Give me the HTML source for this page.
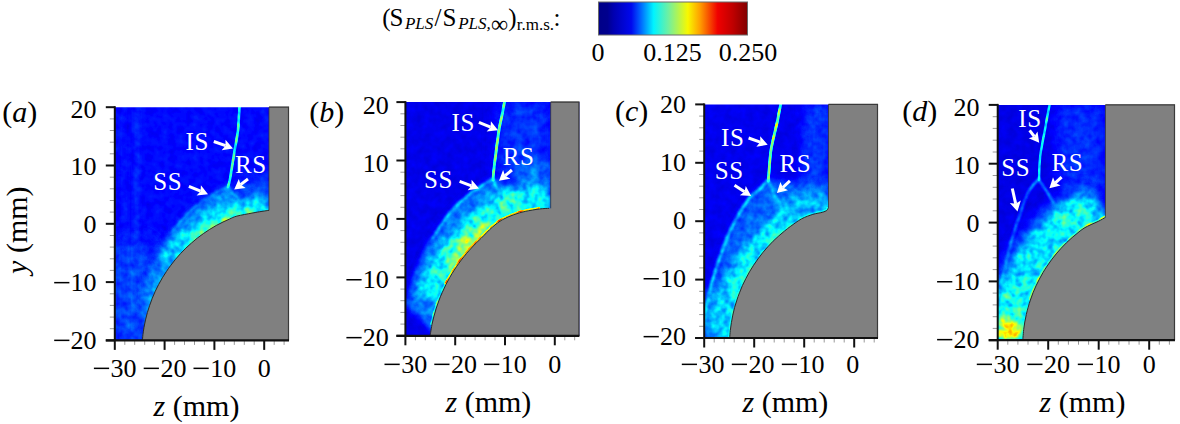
<!DOCTYPE html>
<html><head><meta charset="utf-8"><title>Figure</title>
<style>
html,body{margin:0;padding:0;background:#fff;overflow:hidden;}
svg{display:block;}
text{font-family:"Liberation Serif", serif;fill:#000;}
.w{fill:#fff;font-size:25px;}
</style></head><body>
<svg width="1180" height="424" viewBox="0 0 1180 424">
<defs>
<linearGradient id="jet" x1="0" x2="1" y1="0" y2="0">
<stop offset="0" stop-color="#000088"/>
<stop offset="0.06" stop-color="#00008e"/>
<stop offset="0.10" stop-color="#0000b0"/>
<stop offset="0.22" stop-color="#0008ee"/>
<stop offset="0.28" stop-color="#0060ff"/>
<stop offset="0.37" stop-color="#00f4ff"/>
<stop offset="0.47" stop-color="#70f0a0"/>
<stop offset="0.60" stop-color="#f8f800"/>
<stop offset="0.68" stop-color="#ffa000"/>
<stop offset="0.80" stop-color="#f00000"/>
<stop offset="0.90" stop-color="#c00000"/>
<stop offset="1" stop-color="#800000"/>
</linearGradient>
<filter id="b1" filterUnits="userSpaceOnUse" x="0" y="0" width="1180" height="424" color-interpolation-filters="sRGB"><feGaussianBlur stdDeviation="1"/></filter>
<filter id="b2" filterUnits="userSpaceOnUse" x="0" y="0" width="1180" height="424" color-interpolation-filters="sRGB"><feGaussianBlur stdDeviation="2"/></filter>
<filter id="b3" filterUnits="userSpaceOnUse" x="0" y="0" width="1180" height="424" color-interpolation-filters="sRGB"><feGaussianBlur stdDeviation="3"/></filter>
<filter id="b5" filterUnits="userSpaceOnUse" x="0" y="0" width="1180" height="424" color-interpolation-filters="sRGB"><feGaussianBlur stdDeviation="5"/></filter>
<filter id="b8" filterUnits="userSpaceOnUse" x="0" y="0" width="1180" height="424" color-interpolation-filters="sRGB"><feGaussianBlur stdDeviation="8"/></filter>
<filter id="b12" filterUnits="userSpaceOnUse" x="0" y="0" width="1180" height="424" color-interpolation-filters="sRGB"><feGaussianBlur stdDeviation="12"/></filter>

<clipPath id="clipa"><rect x="114.8" y="107.2" width="174.2" height="233.2"/></clipPath>
<filter id="jma" x="0" y="0" width="100%" height="100%" color-interpolation-filters="sRGB">
<feTurbulence type="fractalNoise" baseFrequency="0.13" numOctaves="2" seed="3" result="t"/>
<feColorMatrix in="t" type="matrix" values="1 0 0 0 0  1 0 0 0 0  1 0 0 0 0  0 0 0 0 1" result="n"/>
<feComponentTransfer in="SourceGraphic" result="wt"><feFuncR type="linear" slope="2.5" intercept="-0.3"/><feFuncG type="linear" slope="2.5" intercept="-0.3"/><feFuncB type="linear" slope="2.5" intercept="-0.3"/><feFuncA type="linear" slope="0" intercept="1"/></feComponentTransfer>
<feComposite in="wt" in2="n" operator="arithmetic" k1="0.42" k2="0" k3="0" k4="0" result="wn"/>
<feComposite in="wt" in2="SourceGraphic" operator="arithmetic" k1="0" k2="-0.21" k3="1" k4="0" result="s1"/>
<feComposite in="s1" in2="wn" operator="arithmetic" k1="0" k2="1" k3="1" k4="0" result="s2"/>
<feComposite in="s2" in2="n" operator="arithmetic" k1="0" k2="1" k3="0.05" k4="-0.025" result="s"/>
<feComponentTransfer in="s">
<feFuncR type="table" tableValues="0.000 0.000 0.000 0.000 0.000 0.000 0.000 0.000 0.000 0.000 0.000 0.000 0.000 0.125 0.250 0.375 0.500 0.625 0.750 0.875 1.000 1.000 1.000 1.000 1.000 1.000 1.000 1.000 1.000 0.875 0.750 0.625 0.500"/>
<feFuncG type="table" tableValues="0.000 0.000 0.000 0.000 0.000 0.125 0.250 0.375 0.500 0.625 0.750 0.875 1.000 1.000 1.000 1.000 1.000 1.000 1.000 1.000 1.000 0.875 0.750 0.625 0.500 0.375 0.250 0.125 0.000 0.000 0.000 0.000 0.000"/>
<feFuncB type="table" tableValues="0.500 0.625 0.750 0.875 1.000 1.000 1.000 1.000 1.000 1.000 1.000 1.000 1.000 0.875 0.750 0.625 0.500 0.375 0.250 0.125 0.000 0.000 0.000 0.000 0.000 0.000 0.000 0.000 0.000 0.000 0.000 0.000 0.000"/>
<feFuncA type="linear" slope="0" intercept="1"/>
</feComponentTransfer>
</filter>
<clipPath id="clipb"><rect x="405.4" y="102.1" width="174.0" height="233.7"/></clipPath>
<filter id="jmb" x="0" y="0" width="100%" height="100%" color-interpolation-filters="sRGB">
<feTurbulence type="fractalNoise" baseFrequency="0.13" numOctaves="2" seed="10" result="t"/>
<feColorMatrix in="t" type="matrix" values="1 0 0 0 0  1 0 0 0 0  1 0 0 0 0  0 0 0 0 1" result="n"/>
<feComponentTransfer in="SourceGraphic" result="wt"><feFuncR type="linear" slope="2.5" intercept="-0.3"/><feFuncG type="linear" slope="2.5" intercept="-0.3"/><feFuncB type="linear" slope="2.5" intercept="-0.3"/><feFuncA type="linear" slope="0" intercept="1"/></feComponentTransfer>
<feComposite in="wt" in2="n" operator="arithmetic" k1="0.42" k2="0" k3="0" k4="0" result="wn"/>
<feComposite in="wt" in2="SourceGraphic" operator="arithmetic" k1="0" k2="-0.21" k3="1" k4="0" result="s1"/>
<feComposite in="s1" in2="wn" operator="arithmetic" k1="0" k2="1" k3="1" k4="0" result="s2"/>
<feComposite in="s2" in2="n" operator="arithmetic" k1="0" k2="1" k3="0.05" k4="-0.025" result="s"/>
<feComponentTransfer in="s">
<feFuncR type="table" tableValues="0.000 0.000 0.000 0.000 0.000 0.000 0.000 0.000 0.000 0.000 0.000 0.000 0.000 0.125 0.250 0.375 0.500 0.625 0.750 0.875 1.000 1.000 1.000 1.000 1.000 1.000 1.000 1.000 1.000 0.875 0.750 0.625 0.500"/>
<feFuncG type="table" tableValues="0.000 0.000 0.000 0.000 0.000 0.125 0.250 0.375 0.500 0.625 0.750 0.875 1.000 1.000 1.000 1.000 1.000 1.000 1.000 1.000 1.000 0.875 0.750 0.625 0.500 0.375 0.250 0.125 0.000 0.000 0.000 0.000 0.000"/>
<feFuncB type="table" tableValues="0.500 0.625 0.750 0.875 1.000 1.000 1.000 1.000 1.000 1.000 1.000 1.000 1.000 0.875 0.750 0.625 0.500 0.375 0.250 0.125 0.000 0.000 0.000 0.000 0.000 0.000 0.000 0.000 0.000 0.000 0.000 0.000 0.000"/>
<feFuncA type="linear" slope="0" intercept="1"/>
</feComponentTransfer>
</filter>
<clipPath id="clipc"><rect x="704.2" y="104.4" width="173.8" height="233.6"/></clipPath>
<filter id="jmc" x="0" y="0" width="100%" height="100%" color-interpolation-filters="sRGB">
<feTurbulence type="fractalNoise" baseFrequency="0.13" numOctaves="2" seed="17" result="t"/>
<feColorMatrix in="t" type="matrix" values="1 0 0 0 0  1 0 0 0 0  1 0 0 0 0  0 0 0 0 1" result="n"/>
<feComponentTransfer in="SourceGraphic" result="wt"><feFuncR type="linear" slope="2.5" intercept="-0.3"/><feFuncG type="linear" slope="2.5" intercept="-0.3"/><feFuncB type="linear" slope="2.5" intercept="-0.3"/><feFuncA type="linear" slope="0" intercept="1"/></feComponentTransfer>
<feComposite in="wt" in2="n" operator="arithmetic" k1="0.42" k2="0" k3="0" k4="0" result="wn"/>
<feComposite in="wt" in2="SourceGraphic" operator="arithmetic" k1="0" k2="-0.21" k3="1" k4="0" result="s1"/>
<feComposite in="s1" in2="wn" operator="arithmetic" k1="0" k2="1" k3="1" k4="0" result="s2"/>
<feComposite in="s2" in2="n" operator="arithmetic" k1="0" k2="1" k3="0.05" k4="-0.025" result="s"/>
<feComponentTransfer in="s">
<feFuncR type="table" tableValues="0.000 0.000 0.000 0.000 0.000 0.000 0.000 0.000 0.000 0.000 0.000 0.000 0.000 0.125 0.250 0.375 0.500 0.625 0.750 0.875 1.000 1.000 1.000 1.000 1.000 1.000 1.000 1.000 1.000 0.875 0.750 0.625 0.500"/>
<feFuncG type="table" tableValues="0.000 0.000 0.000 0.000 0.000 0.125 0.250 0.375 0.500 0.625 0.750 0.875 1.000 1.000 1.000 1.000 1.000 1.000 1.000 1.000 1.000 0.875 0.750 0.625 0.500 0.375 0.250 0.125 0.000 0.000 0.000 0.000 0.000"/>
<feFuncB type="table" tableValues="0.500 0.625 0.750 0.875 1.000 1.000 1.000 1.000 1.000 1.000 1.000 1.000 1.000 0.875 0.750 0.625 0.500 0.375 0.250 0.125 0.000 0.000 0.000 0.000 0.000 0.000 0.000 0.000 0.000 0.000 0.000 0.000 0.000"/>
<feFuncA type="linear" slope="0" intercept="1"/>
</feComponentTransfer>
</filter>
<clipPath id="clipd"><rect x="997.7" y="104.9" width="177.3" height="235.3"/></clipPath>
<filter id="jmd" x="0" y="0" width="100%" height="100%" color-interpolation-filters="sRGB">
<feTurbulence type="fractalNoise" baseFrequency="0.13" numOctaves="2" seed="24" result="t"/>
<feColorMatrix in="t" type="matrix" values="1 0 0 0 0  1 0 0 0 0  1 0 0 0 0  0 0 0 0 1" result="n"/>
<feComponentTransfer in="SourceGraphic" result="wt"><feFuncR type="linear" slope="2.5" intercept="-0.3"/><feFuncG type="linear" slope="2.5" intercept="-0.3"/><feFuncB type="linear" slope="2.5" intercept="-0.3"/><feFuncA type="linear" slope="0" intercept="1"/></feComponentTransfer>
<feComposite in="wt" in2="n" operator="arithmetic" k1="0.42" k2="0" k3="0" k4="0" result="wn"/>
<feComposite in="wt" in2="SourceGraphic" operator="arithmetic" k1="0" k2="-0.21" k3="1" k4="0" result="s1"/>
<feComposite in="s1" in2="wn" operator="arithmetic" k1="0" k2="1" k3="1" k4="0" result="s2"/>
<feComposite in="s2" in2="n" operator="arithmetic" k1="0" k2="1" k3="0.05" k4="-0.025" result="s"/>
<feComponentTransfer in="s">
<feFuncR type="table" tableValues="0.000 0.000 0.000 0.000 0.000 0.000 0.000 0.000 0.000 0.000 0.000 0.000 0.000 0.125 0.250 0.375 0.500 0.625 0.750 0.875 1.000 1.000 1.000 1.000 1.000 1.000 1.000 1.000 1.000 0.875 0.750 0.625 0.500"/>
<feFuncG type="table" tableValues="0.000 0.000 0.000 0.000 0.000 0.125 0.250 0.375 0.500 0.625 0.750 0.875 1.000 1.000 1.000 1.000 1.000 1.000 1.000 1.000 1.000 0.875 0.750 0.625 0.500 0.375 0.250 0.125 0.000 0.000 0.000 0.000 0.000"/>
<feFuncB type="table" tableValues="0.500 0.625 0.750 0.875 1.000 1.000 1.000 1.000 1.000 1.000 1.000 1.000 1.000 0.875 0.750 0.625 0.500 0.375 0.250 0.125 0.000 0.000 0.000 0.000 0.000 0.000 0.000 0.000 0.000 0.000 0.000 0.000 0.000"/>
<feFuncA type="linear" slope="0" intercept="1"/>
</feComponentTransfer>
</filter>
</defs>
<rect width="1180" height="424" fill="#fff"/>
<g font-size="25">
<text x="382.2" y="25.5">(</text>
<text x="389.4" y="25.5">S</text>
<text x="404.9" y="29" font-size="17" font-style="italic">PLS</text>
<text x="434.4" y="25.5">/</text>
<text x="442.6" y="25.5">S</text>
<text x="458.2" y="29" font-size="17" font-style="italic">PLS,</text>
<text x="490.9" y="31.5" font-size="24">∞</text>
<text x="508.2" y="25.5">)</text>
<text x="516.8" y="29.5" font-size="17">r.m.s.</text>
<text x="553.4" y="25.5">:</text>
</g>
<rect x="598.5" y="2" width="149" height="33" fill="url(#jet)" stroke="#6a6a6a" stroke-width="1"/>
<text x="591.5" y="61" font-size="26">0</text>
<text x="643.2" y="61" font-size="26">0.125</text>
<text x="718.7" y="61" font-size="26">0.250</text>
<g clip-path="url(#clipa)"><g filter="url(#jma)">
<rect x="112.8" y="105.2" width="178.2" height="237.2" fill="#222222"/>
<path d="M115.0,245.0 L148.0,245.0 L148.0,345.0 L115.0,345.0 Z" fill="#3b3b3b" filter="url(#b12)" opacity="0.9"/>
<path d="M137.0,107.0 C137.1,145.8 137.4,301.2 137.5,340.0" fill="none" stroke="#2f2f2f" stroke-width="4" stroke-linecap="round" filter="url(#b2)" opacity="0.8"/>
<path d="M124.0,107.0 C124.0,145.8 124.0,301.2 124.0,340.0" fill="none" stroke="#292929" stroke-width="3" stroke-linecap="round" filter="url(#b2)" opacity="0.6"/>
<path d="M232.0,185.0 L269.0,175.0 L269.0,212.0 L236.0,216.0 Z" fill="#333333" filter="url(#b5)" opacity="0.9"/>
<path d="M228.1,187.0 L218.0,191.5 L209.3,196.9 L195.2,206.8 L183.8,218.2 L172.5,232.3 L161.2,249.3 L152.0,268.0 L146.0,290.0 L142.0,310.0 L150.3,341.2 L150.9,335.8 L151.9,328.7 L153.3,321.6 L155.1,314.7 L157.2,307.8 L159.7,301.1 L162.6,294.5 L165.8,288.1 L169.3,281.9 L173.1,275.8 L177.3,270.0 L181.7,264.4 L186.4,259.0 L191.5,253.9 L196.7,249.0 L202.3,244.4 L208.0,240.2 L214.0,236.2 L220.1,232.5 L226.5,229.2 L233.0,226.2 L238.9,223.8 L254.4,220.8 L270.3,218.2 L269.0,205.0 L240.0,200.0 Z" fill="#404040" filter="url(#b3)" opacity="1"/>
<path d="M266.6,195.5 L250.3,198.1 L233.2,201.5 L224.0,205.1 L216.4,208.6 L208.9,212.4 L201.7,216.7 L194.8,221.3 L188.0,226.3 L181.6,231.7 L175.4,237.4 L169.6,243.3 L164.1,249.6 L159.1,255.9 L177.1,270.1 L181.7,264.4 L186.4,259.0 L191.5,253.9 L196.7,249.0 L202.3,244.4 L208.0,240.2 L214.0,236.2 L220.1,232.5 L226.5,229.2 L233.0,226.2 L238.9,223.8 L254.4,220.8 L270.3,218.2 Z" fill="#5e5e5e" filter="url(#b5)" opacity="0.95"/>
<path d="M168.5,253.6 L163.7,259.8 L159.0,266.4 L154.7,273.2 L150.7,280.2 L147.2,287.4 L144.0,294.8 L141.2,302.1 L157.2,308.0 L159.7,301.1 L162.6,294.5 L165.8,288.1 L169.3,281.9 L173.1,275.8 L177.3,270.0 L181.8,264.2 Z" fill="#474747" filter="url(#b5)" opacity="0.9"/>
<path d="M251.8,207.0 L235.4,210.3 L227.5,213.3 L220.3,216.6 L213.3,220.3 L206.5,224.3 L199.9,228.7 L193.6,233.4 L187.6,238.4 L196.6,249.1 L202.3,244.4 L208.0,240.2 L214.0,236.2 L220.1,232.5 L226.5,229.2 L233.0,226.2 L238.9,223.8 L254.5,220.8 Z" fill="#737373" filter="url(#b2)" opacity="0.9"/>
<ellipse cx="226.0" cy="219.5" rx="6" ry="2.5" fill="#9e9e9e" filter="url(#b1)" opacity="0.9"/>
<path d="M228.1,187.0 C226.4,187.8 221.1,189.8 218.0,191.5 C214.9,193.2 213.1,194.3 209.3,196.9 C205.5,199.5 199.4,203.2 195.2,206.8 C190.9,210.4 187.6,213.9 183.8,218.2 C180.0,222.4 174.4,230.0 172.5,232.3" fill="none" stroke="#4c4c4c" stroke-width="2.5" stroke-linecap="round" filter="url(#b1)" opacity="0.6"/>
<path d="M239.6,105.0 C239.3,109.2 238.8,122.5 238.0,130.0 C237.2,137.5 235.8,143.3 234.7,150.0 C233.6,156.7 232.3,165.0 231.5,170.0 C230.7,175.0 230.4,177.2 229.8,180.0 C229.2,182.8 228.4,185.8 228.1,187.0" fill="none" stroke="#6b6b6b" stroke-width="2.6" stroke-linecap="round" opacity="1"/>
<path d="M228.1,187.0 C229.1,188.5 231.0,193.2 234.0,196.0 C237.0,198.8 244.0,202.7 246.0,204.0" fill="none" stroke="#4c4c4c" stroke-width="3" stroke-linecap="round" filter="url(#b1)" opacity="0.8"/>
</g></g>
<path d="M269.0,106.7 L289.0,106.7 L289.0,340.4 L142.4,340.4 L142.4,340.4 C142.5,339.5 142.7,337.0 142.9,334.8 C143.2,332.6 143.6,329.8 144.0,327.3 C144.5,324.8 145.0,322.3 145.5,319.9 C146.1,317.4 146.7,314.9 147.4,312.5 C148.1,310.1 148.9,307.7 149.7,305.3 C150.5,302.9 151.4,300.5 152.3,298.2 C153.3,295.8 154.3,293.5 155.3,291.2 C156.4,288.9 157.5,286.6 158.7,284.4 C159.9,282.2 161.1,279.9 162.4,277.8 C163.7,275.6 165.1,273.5 166.5,271.4 C167.9,269.3 169.3,267.2 170.9,265.2 C172.4,263.2 174.0,261.2 175.6,259.2 C177.2,257.3 178.9,255.4 180.6,253.5 C182.3,251.7 184.1,249.9 185.9,248.1 C187.7,246.4 189.6,244.6 191.5,243.0 C193.4,241.3 195.3,239.7 197.3,238.1 C199.3,236.6 201.3,235.1 203.4,233.6 C205.5,232.2 207.6,230.8 209.7,229.4 C211.9,228.1 214.0,226.8 216.2,225.5 C218.4,224.3 220.7,223.1 223.0,222.0 C225.2,220.9 227.5,219.9 229.9,218.9 C232.2,217.9 233.0,217.1 236.9,216.1 C240.8,215.1 247.7,213.9 253.0,212.9 C258.3,211.9 266.3,210.7 269.0,210.3 L269.0,210.3 Z" fill="#808080"/>
<path d="M269.0,107.2 L269.0,210.3" fill="none" stroke="#333" stroke-width="1" opacity="0.75"/>
<path d="M269.0,210.3 C266.3,210.7 258.3,211.9 253.0,212.9 C247.7,213.9 240.8,215.1 236.9,216.1 C233.0,217.1 232.2,217.9 229.9,218.9 C227.5,219.9 225.2,220.9 223.0,222.0 C220.7,223.1 218.4,224.3 216.2,225.5 C214.0,226.8 211.9,228.1 209.7,229.4 C207.6,230.8 205.5,232.2 203.4,233.6 C201.3,235.1 199.3,236.6 197.3,238.1 C195.3,239.7 193.4,241.3 191.5,243.0 C189.6,244.6 187.7,246.4 185.9,248.1 C184.1,249.9 182.3,251.7 180.6,253.5 C178.9,255.4 177.2,257.3 175.6,259.2 C174.0,261.2 172.4,263.2 170.9,265.2 C169.3,267.2 167.9,269.3 166.5,271.4 C165.1,273.5 163.7,275.6 162.4,277.8 C161.1,279.9 159.9,282.2 158.7,284.4 C157.5,286.6 156.4,288.9 155.3,291.2 C154.3,293.5 153.3,295.8 152.3,298.2 C151.4,300.5 150.5,302.9 149.7,305.3 C148.9,307.7 148.1,310.1 147.4,312.5 C146.7,314.9 146.1,317.4 145.5,319.9 C145.0,322.3 144.5,324.8 144.0,327.3 C143.6,329.8 143.2,332.6 142.9,334.8 C142.7,337.0 142.5,339.5 142.4,340.4" fill="none" stroke="#2a2a2a" stroke-width="1" stroke-linejoin="round"/>
<path d="M269.0,107.2 L288.5,107.2 L288.5,340.4" fill="none" stroke="#3a3a3a" stroke-width="1.2"/>
<line x1="105.8" y1="340.4" x2="114.8" y2="340.4" stroke="#111" stroke-width="2"/>
<line x1="109.8" y1="328.7" x2="114.8" y2="328.7" stroke="#9a9a9a" stroke-width="1"/>
<line x1="109.8" y1="317.1" x2="114.8" y2="317.1" stroke="#9a9a9a" stroke-width="1"/>
<line x1="109.8" y1="305.4" x2="114.8" y2="305.4" stroke="#9a9a9a" stroke-width="1"/>
<line x1="109.8" y1="293.8" x2="114.8" y2="293.8" stroke="#9a9a9a" stroke-width="1"/>
<line x1="105.8" y1="282.1" x2="114.8" y2="282.1" stroke="#111" stroke-width="2"/>
<line x1="109.8" y1="270.4" x2="114.8" y2="270.4" stroke="#9a9a9a" stroke-width="1"/>
<line x1="109.8" y1="258.8" x2="114.8" y2="258.8" stroke="#9a9a9a" stroke-width="1"/>
<line x1="109.8" y1="247.1" x2="114.8" y2="247.1" stroke="#9a9a9a" stroke-width="1"/>
<line x1="109.8" y1="235.5" x2="114.8" y2="235.5" stroke="#9a9a9a" stroke-width="1"/>
<line x1="105.8" y1="223.8" x2="114.8" y2="223.8" stroke="#111" stroke-width="2"/>
<line x1="109.8" y1="212.1" x2="114.8" y2="212.1" stroke="#9a9a9a" stroke-width="1"/>
<line x1="109.8" y1="200.5" x2="114.8" y2="200.5" stroke="#9a9a9a" stroke-width="1"/>
<line x1="109.8" y1="188.8" x2="114.8" y2="188.8" stroke="#9a9a9a" stroke-width="1"/>
<line x1="109.8" y1="177.2" x2="114.8" y2="177.2" stroke="#9a9a9a" stroke-width="1"/>
<line x1="105.8" y1="165.5" x2="114.8" y2="165.5" stroke="#111" stroke-width="2"/>
<line x1="109.8" y1="153.8" x2="114.8" y2="153.8" stroke="#9a9a9a" stroke-width="1"/>
<line x1="109.8" y1="142.2" x2="114.8" y2="142.2" stroke="#9a9a9a" stroke-width="1"/>
<line x1="109.8" y1="130.5" x2="114.8" y2="130.5" stroke="#9a9a9a" stroke-width="1"/>
<line x1="109.8" y1="118.9" x2="114.8" y2="118.9" stroke="#9a9a9a" stroke-width="1"/>
<line x1="105.8" y1="107.2" x2="114.8" y2="107.2" stroke="#111" stroke-width="2"/>
<line x1="114.8" y1="340.4" x2="114.8" y2="349.9" stroke="#111" stroke-width="2"/>
<line x1="124.8" y1="340.4" x2="124.8" y2="344.9" stroke="#9a9a9a" stroke-width="1"/>
<line x1="134.7" y1="340.4" x2="134.7" y2="344.9" stroke="#9a9a9a" stroke-width="1"/>
<line x1="144.7" y1="340.4" x2="144.7" y2="344.9" stroke="#9a9a9a" stroke-width="1"/>
<line x1="154.6" y1="340.4" x2="154.6" y2="344.9" stroke="#9a9a9a" stroke-width="1"/>
<line x1="164.6" y1="340.4" x2="164.6" y2="349.9" stroke="#111" stroke-width="2"/>
<line x1="174.6" y1="340.4" x2="174.6" y2="344.9" stroke="#9a9a9a" stroke-width="1"/>
<line x1="184.5" y1="340.4" x2="184.5" y2="344.9" stroke="#9a9a9a" stroke-width="1"/>
<line x1="194.5" y1="340.4" x2="194.5" y2="344.9" stroke="#9a9a9a" stroke-width="1"/>
<line x1="204.4" y1="340.4" x2="204.4" y2="344.9" stroke="#9a9a9a" stroke-width="1"/>
<line x1="214.4" y1="340.4" x2="214.4" y2="349.9" stroke="#111" stroke-width="2"/>
<line x1="224.4" y1="340.4" x2="224.4" y2="344.9" stroke="#9a9a9a" stroke-width="1"/>
<line x1="234.3" y1="340.4" x2="234.3" y2="344.9" stroke="#9a9a9a" stroke-width="1"/>
<line x1="244.3" y1="340.4" x2="244.3" y2="344.9" stroke="#9a9a9a" stroke-width="1"/>
<line x1="254.2" y1="340.4" x2="254.2" y2="344.9" stroke="#9a9a9a" stroke-width="1"/>
<line x1="264.2" y1="340.4" x2="264.2" y2="349.9" stroke="#111" stroke-width="2"/>
<line x1="274.2" y1="340.4" x2="274.2" y2="344.9" stroke="#9a9a9a" stroke-width="1"/>
<line x1="284.1" y1="340.4" x2="284.1" y2="344.9" stroke="#9a9a9a" stroke-width="1"/>
<line x1="114.8" y1="106.2" x2="114.8" y2="340.4" stroke="#111" stroke-width="2"/>
<line x1="105.8" y1="340.4" x2="289.0" y2="340.4" stroke="#111" stroke-width="2.2"/>
<text x="96.6" y="117.5" font-size="26" text-anchor="end">20</text>
<text x="96.6" y="175.2" font-size="26" text-anchor="end">10</text>
<text x="96.6" y="233.0" font-size="26" text-anchor="end">0</text>
<text x="96.6" y="290.8" font-size="26" text-anchor="end">10</text>
<rect x="54.2" y="281.9" width="15.2" height="1.5" fill="#000"/>
<text x="96.6" y="348.5" font-size="26" text-anchor="end">20</text>
<rect x="54.2" y="339.6" width="15.2" height="1.5" fill="#000"/>
<rect x="93.9" y="367.6" width="15.2" height="1.5" fill="#000"/>
<text x="110.6" y="376.5" font-size="26">30</text>
<rect x="143.7" y="367.6" width="15.2" height="1.5" fill="#000"/>
<text x="160.4" y="376.5" font-size="26">20</text>
<rect x="193.5" y="367.6" width="15.2" height="1.5" fill="#000"/>
<text x="210.2" y="376.5" font-size="26">10</text>
<text x="264.2" y="376.5" font-size="26" text-anchor="middle">0</text>
<text x="196.5" y="415.8" font-size="30" text-anchor="middle"><tspan font-style="italic">z</tspan> (mm)</text>
<text x="2.2" y="122.2" font-size="30">(<tspan font-style="italic">a</tspan>)</text>
<text class="w" x="185.5" y="149.6" letter-spacing="0.6">IS</text>
<text class="w" x="235.0" y="173.3" letter-spacing="0.6">RS</text>
<text class="w" x="153.2" y="189.6" letter-spacing="0.6">SS</text>
<line x1="213.8" y1="141.5" x2="225.5" y2="145.7" stroke="#fff" stroke-width="3"/><path d="M233.0,148.4 L221.7,150.3 L225.5,145.7 L225.5,139.7 Z" fill="#fff"/>
<line x1="248.0" y1="179.0" x2="240.6" y2="184.6" stroke="#fff" stroke-width="3"/><path d="M234.2,189.4 L238.8,178.9 L240.6,184.6 L245.6,187.9 Z" fill="#fff"/>
<line x1="188.9" y1="186.3" x2="200.6" y2="191.2" stroke="#fff" stroke-width="3"/><path d="M208.0,194.3 L196.6,195.6 L200.6,191.2 L200.9,185.3 Z" fill="#fff"/>
<g clip-path="url(#clipb)"><g filter="url(#jmb)">
<rect x="403.4" y="100.1" width="178.0" height="237.7" fill="#1b1b1b"/>
<path d="M500.0,102.0 L549.0,102.0 L549.0,185.0 L497.0,180.0 Z" fill="#303030" filter="url(#b8)" opacity="0.9"/>
<path d="M515.0,165.0 L549.0,160.0 L549.0,209.0 L520.0,212.0 Z" fill="#424242" filter="url(#b5)" opacity="0.8"/>
<path d="M493.1,179.0 L476.6,189.6 L465.2,198.0 L449.1,214.1 L433.1,238.2 L421.0,262.3 L413.0,285.0 L408.0,305.0 L438.0,336.9 L438.4,333.9 L439.9,325.9 L441.7,318.2 L443.9,310.5 L446.6,303.0 L449.6,295.6 L453.0,288.4 L456.7,281.3 L460.9,274.5 L465.4,267.9 L470.2,261.6 L475.4,255.5 L480.8,249.7 L486.8,243.9 L497.7,233.0 L506.5,226.6 L516.5,222.2 L526.9,219.2 L540.3,216.9 L549.8,216.3 L549.0,200.0 L520.0,190.0 Z" fill="#404040" filter="url(#b3)" opacity="1"/>
<path d="M547.5,184.4 L536.2,185.2 L520.0,188.0 L505.6,192.2 L490.5,198.9 L476.8,208.9 L464.4,221.1 L458.1,227.1 L451.5,234.2 L445.2,241.6 L439.4,249.2 L434.0,257.2 L429.0,265.5 L424.4,274.0 L420.3,282.7 L416.9,291.1 L446.5,303.2 L449.6,295.6 L453.0,288.4 L456.7,281.3 L460.9,274.5 L465.4,267.9 L470.2,261.6 L475.4,255.5 L480.8,249.7 L486.8,243.9 L497.7,233.0 L506.5,226.6 L516.5,222.2 L526.9,219.2 L540.3,216.9 L549.8,216.3 Z" fill="#626262" filter="url(#b5)" opacity="0.95"/>
<path d="M482.6,217.1 L471.4,228.2 L465.2,234.2 L458.9,240.8 L453.0,247.8 L447.5,255.1 L442.6,262.3 L460.8,274.7 L465.4,267.9 L470.2,261.6 L475.4,255.5 L480.8,249.7 L486.8,243.9 L498.1,232.7 Z" fill="#808080" filter="url(#b5)" opacity="0.9"/>
<ellipse cx="470.0" cy="240.0" rx="10" ry="8" fill="#8f8f8f" filter="url(#b3)" opacity="0.8"/>
<ellipse cx="507.0" cy="201.0" rx="8" ry="9" fill="#737373" filter="url(#b3)" opacity="0.9"/>
<path d="M539.1,208.0 C536.8,208.4 529.3,209.5 525.0,210.4 C520.7,211.4 517.3,212.4 513.5,213.8 C509.6,215.2 505.6,216.8 502.0,218.8 C498.4,220.9 495.4,223.1 491.8,226.2 C488.3,229.4 483.4,234.7 480.5,237.5 C477.6,240.4 476.4,241.3 474.4,243.3 C472.4,245.3 470.5,247.4 468.6,249.5 C466.8,251.6 464.9,253.7 463.2,255.9 C461.4,258.1 459.7,260.4 458.1,262.7 C456.4,265.0 454.8,267.3 453.3,269.7 C451.8,272.0 450.3,274.4 448.9,276.9 C447.5,279.3 445.6,283.1 444.9,284.3" fill="none" stroke="#b8b8b8" stroke-width="1.8" stroke-linecap="round" opacity="0.95"/>
<path d="M444.9,284.3 C444.3,285.6 442.5,289.4 441.3,292.0 C440.2,294.5 439.1,297.2 438.1,299.8 C437.1,302.4 436.2,305.1 435.4,307.8 C434.5,310.5 433.7,313.2 433.0,315.9 C432.3,318.6 431.4,322.7 431.1,324.1" fill="none" stroke="#737373" stroke-width="1.5" stroke-linecap="round" opacity="0.9"/>
<path d="M493.1,179.0 C490.4,180.8 481.2,186.4 476.6,189.6 C472.0,192.8 469.8,193.9 465.2,198.0 C460.6,202.1 454.5,207.4 449.1,214.1 C443.8,220.8 435.8,234.2 433.1,238.2" fill="none" stroke="#545454" stroke-width="3" stroke-linecap="round" filter="url(#b1)" opacity="0.9"/>
<path d="M433.1,238.2 C431.1,242.2 424.4,254.5 421.0,262.3 C417.6,270.1 415.2,277.9 413.0,285.0 C410.8,292.1 408.8,301.7 408.0,305.0" fill="none" stroke="#424242" stroke-width="3" stroke-linecap="round" filter="url(#b2)" opacity="0.8"/>
<path d="M504.9,100.0 C504.4,102.5 503.0,110.0 502.0,115.0 C501.0,120.0 500.2,122.5 499.0,130.0 C497.8,137.5 495.9,153.0 495.0,160.0 C494.1,167.0 493.9,168.7 493.6,172.0 C493.3,175.3 493.2,178.7 493.1,180.0" fill="none" stroke="#7a7a7a" stroke-width="2.8" stroke-linecap="round" opacity="1"/>
<path d="M493.1,180.0 C493.8,181.7 495.4,186.8 497.0,190.0 C498.6,193.2 501.6,197.5 502.5,199.0" fill="none" stroke="#545454" stroke-width="3" stroke-linecap="round" filter="url(#b1)" opacity="0.8"/>
</g></g>
<path d="M550.7,101.6 L579.4,101.6 L579.4,335.8 L430.1,335.8 L430.1,335.8 C430.2,335.3 430.2,334.5 430.6,332.6 C430.9,330.7 431.5,327.1 432.0,324.3 C432.6,321.6 433.3,318.8 434.0,316.1 C434.7,313.4 435.5,310.7 436.3,308.1 C437.2,305.4 438.1,302.8 439.1,300.1 C440.1,297.5 441.1,294.9 442.3,292.4 C443.4,289.8 444.6,287.3 445.8,284.8 C447.1,282.3 448.4,279.8 449.8,277.4 C451.2,274.9 452.6,272.5 454.2,270.2 C455.7,267.8 457.2,265.5 458.9,263.3 C460.5,261.0 462.2,258.7 464.0,256.6 C465.7,254.4 467.5,252.2 469.4,250.2 C471.2,248.1 473.2,246.0 475.1,244.0 C477.1,242.0 478.3,241.1 481.2,238.2 C484.1,235.4 488.9,230.1 492.5,227.0 C496.1,223.9 498.9,221.8 502.5,219.7 C506.1,217.6 510.0,216.1 513.8,214.7 C517.6,213.3 521.0,212.3 525.2,211.4 C529.5,210.5 535.3,209.5 539.3,209.0 C543.3,208.5 547.6,208.4 549.2,208.3 L550.7,208.3 Z" fill="#808080"/>
<path d="M550.7,102.1 L550.7,208.3" fill="none" stroke="#333" stroke-width="1" opacity="0.75"/>
<path d="M549.2,208.3 C547.6,208.4 543.3,208.5 539.3,209.0 C535.3,209.5 529.5,210.5 525.2,211.4 C521.0,212.3 517.6,213.3 513.8,214.7 C510.0,216.1 506.1,217.6 502.5,219.7 C498.9,221.8 496.1,223.9 492.5,227.0 C488.9,230.1 484.1,235.4 481.2,238.2 C478.3,241.1 477.1,242.0 475.1,244.0 C473.2,246.0 471.2,248.1 469.4,250.2 C467.5,252.2 465.7,254.4 464.0,256.6 C462.2,258.7 460.5,261.0 458.9,263.3 C457.2,265.5 455.7,267.8 454.2,270.2 C452.6,272.5 451.2,274.9 449.8,277.4 C448.4,279.8 447.1,282.3 445.8,284.8 C444.6,287.3 443.4,289.8 442.3,292.4 C441.1,294.9 440.1,297.5 439.1,300.1 C438.1,302.8 437.2,305.4 436.3,308.1 C435.5,310.7 434.7,313.4 434.0,316.1 C433.3,318.8 432.6,321.6 432.0,324.3 C431.5,327.1 430.9,330.7 430.6,332.6 C430.2,334.5 430.2,335.3 430.1,335.8" fill="none" stroke="#2a2a2a" stroke-width="1" stroke-linejoin="round"/>
<path d="M550.7,102.1 L578.9,102.1 L578.9,335.8" fill="none" stroke="#3a3a3a" stroke-width="1.2"/>
<line x1="396.4" y1="335.8" x2="405.4" y2="335.8" stroke="#111" stroke-width="2"/>
<line x1="400.4" y1="324.1" x2="405.4" y2="324.1" stroke="#9a9a9a" stroke-width="1"/>
<line x1="400.4" y1="312.4" x2="405.4" y2="312.4" stroke="#9a9a9a" stroke-width="1"/>
<line x1="400.4" y1="300.7" x2="405.4" y2="300.7" stroke="#9a9a9a" stroke-width="1"/>
<line x1="400.4" y1="289.1" x2="405.4" y2="289.1" stroke="#9a9a9a" stroke-width="1"/>
<line x1="396.4" y1="277.4" x2="405.4" y2="277.4" stroke="#111" stroke-width="2"/>
<line x1="400.4" y1="265.7" x2="405.4" y2="265.7" stroke="#9a9a9a" stroke-width="1"/>
<line x1="400.4" y1="254.0" x2="405.4" y2="254.0" stroke="#9a9a9a" stroke-width="1"/>
<line x1="400.4" y1="242.3" x2="405.4" y2="242.3" stroke="#9a9a9a" stroke-width="1"/>
<line x1="400.4" y1="230.6" x2="405.4" y2="230.6" stroke="#9a9a9a" stroke-width="1"/>
<line x1="396.4" y1="218.9" x2="405.4" y2="218.9" stroke="#111" stroke-width="2"/>
<line x1="400.4" y1="207.3" x2="405.4" y2="207.3" stroke="#9a9a9a" stroke-width="1"/>
<line x1="400.4" y1="195.6" x2="405.4" y2="195.6" stroke="#9a9a9a" stroke-width="1"/>
<line x1="400.4" y1="183.9" x2="405.4" y2="183.9" stroke="#9a9a9a" stroke-width="1"/>
<line x1="400.4" y1="172.2" x2="405.4" y2="172.2" stroke="#9a9a9a" stroke-width="1"/>
<line x1="396.4" y1="160.5" x2="405.4" y2="160.5" stroke="#111" stroke-width="2"/>
<line x1="400.4" y1="148.8" x2="405.4" y2="148.8" stroke="#9a9a9a" stroke-width="1"/>
<line x1="400.4" y1="137.2" x2="405.4" y2="137.2" stroke="#9a9a9a" stroke-width="1"/>
<line x1="400.4" y1="125.5" x2="405.4" y2="125.5" stroke="#9a9a9a" stroke-width="1"/>
<line x1="400.4" y1="113.8" x2="405.4" y2="113.8" stroke="#9a9a9a" stroke-width="1"/>
<line x1="396.4" y1="102.1" x2="405.4" y2="102.1" stroke="#111" stroke-width="2"/>
<line x1="405.4" y1="335.8" x2="405.4" y2="345.3" stroke="#111" stroke-width="2"/>
<line x1="415.4" y1="335.8" x2="415.4" y2="340.3" stroke="#9a9a9a" stroke-width="1"/>
<line x1="425.3" y1="335.8" x2="425.3" y2="340.3" stroke="#9a9a9a" stroke-width="1"/>
<line x1="435.3" y1="335.8" x2="435.3" y2="340.3" stroke="#9a9a9a" stroke-width="1"/>
<line x1="445.2" y1="335.8" x2="445.2" y2="340.3" stroke="#9a9a9a" stroke-width="1"/>
<line x1="455.2" y1="335.8" x2="455.2" y2="345.3" stroke="#111" stroke-width="2"/>
<line x1="465.2" y1="335.8" x2="465.2" y2="340.3" stroke="#9a9a9a" stroke-width="1"/>
<line x1="475.1" y1="335.8" x2="475.1" y2="340.3" stroke="#9a9a9a" stroke-width="1"/>
<line x1="485.1" y1="335.8" x2="485.1" y2="340.3" stroke="#9a9a9a" stroke-width="1"/>
<line x1="495.0" y1="335.8" x2="495.0" y2="340.3" stroke="#9a9a9a" stroke-width="1"/>
<line x1="505.0" y1="335.8" x2="505.0" y2="345.3" stroke="#111" stroke-width="2"/>
<line x1="515.0" y1="335.8" x2="515.0" y2="340.3" stroke="#9a9a9a" stroke-width="1"/>
<line x1="524.9" y1="335.8" x2="524.9" y2="340.3" stroke="#9a9a9a" stroke-width="1"/>
<line x1="534.9" y1="335.8" x2="534.9" y2="340.3" stroke="#9a9a9a" stroke-width="1"/>
<line x1="544.8" y1="335.8" x2="544.8" y2="340.3" stroke="#9a9a9a" stroke-width="1"/>
<line x1="554.8" y1="335.8" x2="554.8" y2="345.3" stroke="#111" stroke-width="2"/>
<line x1="564.8" y1="335.8" x2="564.8" y2="340.3" stroke="#9a9a9a" stroke-width="1"/>
<line x1="574.7" y1="335.8" x2="574.7" y2="340.3" stroke="#9a9a9a" stroke-width="1"/>
<line x1="405.4" y1="101.1" x2="405.4" y2="335.8" stroke="#111" stroke-width="2"/>
<line x1="396.4" y1="335.8" x2="579.4" y2="335.8" stroke="#111" stroke-width="2.2"/>
<text x="388.8" y="114.2" font-size="26" text-anchor="end">20</text>
<text x="388.8" y="172.1" font-size="26" text-anchor="end">10</text>
<text x="388.8" y="230.0" font-size="26" text-anchor="end">0</text>
<text x="388.8" y="287.9" font-size="26" text-anchor="end">10</text>
<rect x="346.4" y="279.0" width="15.2" height="1.5" fill="#000"/>
<text x="388.8" y="345.8" font-size="26" text-anchor="end">20</text>
<rect x="346.4" y="336.9" width="15.2" height="1.5" fill="#000"/>
<rect x="384.5" y="363.6" width="15.2" height="1.5" fill="#000"/>
<text x="401.2" y="372.5" font-size="26">30</text>
<rect x="434.3" y="363.6" width="15.2" height="1.5" fill="#000"/>
<text x="451.0" y="372.5" font-size="26">20</text>
<rect x="484.1" y="363.6" width="15.2" height="1.5" fill="#000"/>
<text x="500.8" y="372.5" font-size="26">10</text>
<text x="554.8" y="372.5" font-size="26" text-anchor="middle">0</text>
<text x="488.4" y="412.4" font-size="30" text-anchor="middle"><tspan font-style="italic">z</tspan> (mm)</text>
<text x="309.2" y="122.2" font-size="30">(<tspan font-style="italic">b</tspan>)</text>
<text class="w" x="451.5" y="130.5" letter-spacing="0.6">IS</text>
<text class="w" x="502.7" y="164.7" letter-spacing="0.6">RS</text>
<text class="w" x="423.9" y="188.3" letter-spacing="0.6">SS</text>
<line x1="478.9" y1="122.4" x2="490.6" y2="127.2" stroke="#fff" stroke-width="3"/><path d="M498.0,130.2 L486.6,131.6 L490.6,127.2 L490.9,121.2 Z" fill="#fff"/>
<line x1="511.9" y1="170.0" x2="505.1" y2="175.7" stroke="#fff" stroke-width="3"/><path d="M499.0,180.8 L503.1,170.1 L505.1,175.7 L510.3,178.7 Z" fill="#fff"/>
<line x1="459.6" y1="181.3" x2="471.5" y2="185.8" stroke="#fff" stroke-width="3"/><path d="M479.0,188.6 L467.7,190.3 L471.5,185.8 L471.6,179.8 Z" fill="#fff"/>
<g clip-path="url(#clipc)"><g filter="url(#jmc)">
<rect x="702.2" y="102.4" width="177.8" height="237.6" fill="#1c1c1c"/>
<path d="M805.0,104.0 L828.0,104.0 L828.0,200.0 L800.0,200.0 Z" fill="#303030" filter="url(#b5)" opacity="0.9"/>
<path d="M768.2,180.0 L756.9,192.2 L751.1,196.0 L739.1,214.1 L727.1,238.2 L717.0,266.3 L709.0,294.3 L705.0,314.4 L703.0,330.0 L737.7,338.6 L738.3,331.2 L739.3,324.0 L740.6,316.7 L742.4,309.6 L744.5,302.6 L746.9,295.7 L749.7,288.9 L752.9,282.3 L756.4,275.9 L760.3,269.6 L764.5,263.6 L768.9,257.8 L773.7,252.2 L778.8,246.9 L784.1,241.9 L789.7,237.1 L795.5,232.7 L805.3,226.0 L815.2,222.0 L824.5,220.0 L831.4,216.9 L834.9,212.3 L828.0,185.0 Z" fill="#383838" filter="url(#b3)" opacity="1"/>
<path d="M812.4,199.4 L816.5,195.7 L817.4,195.0 L807.4,197.2 L793.0,203.0 L780.4,211.5 L773.4,216.9 L766.8,222.5 L760.4,228.5 L754.4,234.8 L748.8,241.4 L743.5,248.2 L738.5,255.4 L734.0,262.8 L729.8,270.4 L726.0,278.3 L722.7,286.3 L719.8,294.5 L717.3,302.8 L715.2,311.3 L713.6,319.8 L712.5,328.4 L711.8,336.5 L737.7,338.6 L738.3,331.2 L739.3,324.0 L740.6,316.7 L742.4,309.6 L744.5,302.6 L746.9,295.7 L749.7,288.9 L752.9,282.3 L756.4,275.9 L760.3,269.6 L764.5,263.6 L768.9,257.8 L773.7,252.2 L778.8,246.9 L784.1,241.9 L789.7,237.1 L795.5,232.7 L805.3,226.0 L815.2,222.0 L824.5,220.0 L831.4,216.9 L834.9,212.3 Z" fill="#606060" filter="url(#b5)" opacity="0.95"/>
<ellipse cx="800.0" cy="214.0" rx="22" ry="9" fill="#6b6b6b" filter="url(#b5)" opacity="0.8"/>
<path d="M775.0,195.0 L828.0,190.0 L828.0,209.0 L800.0,219.0 L780.0,230.0 Z" fill="#4c4c4c" filter="url(#b5)" opacity="0.9"/>
<path d="M704.0,295.0 L732.0,295.0 L732.0,340.0 L704.0,340.0 Z" fill="#545454" filter="url(#b8)" opacity="0.9"/>
<path d="M827.1,207.8 C827.0,208.1 827.1,209.0 826.2,209.6 C825.4,210.2 824.3,210.7 822.0,211.3 C819.7,212.0 816.0,212.3 812.5,213.4 C809.0,214.6 804.7,216.0 801.0,218.0 C797.3,220.0 793.1,223.3 790.3,225.4 C787.4,227.4 786.1,228.5 784.0,230.1 C782.0,231.7 780.0,233.4 778.1,235.2 C776.2,236.9 774.3,238.7 772.4,240.5 C770.6,242.4 768.8,244.2 767.0,246.2 C765.3,248.1 763.6,250.1 762.0,252.1 C760.3,254.1 758.7,256.2 757.2,258.3 C755.7,260.4 754.2,262.5 752.7,264.7 C751.3,266.9 750.0,269.1 748.7,271.3 C747.3,273.6 746.1,275.9 744.9,278.2 C743.7,280.5 742.6,282.9 741.5,285.2 C740.5,287.6 739.5,290.0 738.5,292.4 C737.6,294.9 736.7,297.3 735.9,299.8 C735.1,302.3 734.4,304.8 733.7,307.3 C733.0,309.8 732.4,312.3 731.8,314.9 C731.3,317.4 730.8,320.0 730.4,322.5 C730.0,325.1 729.6,327.7 729.4,330.3 C729.1,332.8 728.8,336.6 728.7,337.9" fill="none" stroke="#666666" stroke-width="1.5" stroke-linecap="round" opacity="0.8"/>
<path d="M768.2,180.0 C766.3,182.0 759.8,189.5 756.9,192.2 C754.0,194.9 754.1,192.3 751.1,196.0 C748.1,199.7 743.1,207.1 739.1,214.1 C735.1,221.1 730.8,229.5 727.1,238.2 C723.4,246.9 720.0,256.9 717.0,266.3 C714.0,275.7 711.0,286.3 709.0,294.3 C707.0,302.3 706.0,308.4 705.0,314.4 C704.0,320.3 703.3,327.4 703.0,330.0" fill="none" stroke="#575757" stroke-width="3" stroke-linecap="round" filter="url(#b1)" opacity="0.95"/>
<path d="M780.9,103.0 C780.4,105.5 778.9,113.7 778.0,118.0 C777.1,122.3 776.9,123.3 775.7,128.6 C774.5,133.9 772.1,143.1 771.0,150.0 C769.9,156.9 769.6,164.8 769.1,170.0 C768.6,175.2 768.4,179.2 768.2,181.0" fill="none" stroke="#808080" stroke-width="2.8" stroke-linecap="round" opacity="1"/>
<path d="M768.2,181.0 C769.5,183.7 773.4,192.5 775.7,197.0 C778.0,201.5 781.0,206.2 782.0,208.0" fill="none" stroke="#575757" stroke-width="3" stroke-linecap="round" filter="url(#b1)" opacity="0.8"/>
</g></g>
<path d="M828.5,103.9 L878.0,103.9 L878.0,338.0 L729.7,338.0 L729.7,338.0 C729.8,336.7 730.1,332.9 730.3,330.4 C730.6,327.8 731.0,325.2 731.4,322.7 C731.8,320.1 732.3,317.6 732.8,315.1 C733.4,312.5 734.0,310.0 734.6,307.5 C735.3,305.0 736.1,302.6 736.9,300.1 C737.7,297.6 738.5,295.2 739.5,292.8 C740.4,290.4 741.4,288.0 742.4,285.6 C743.5,283.3 744.6,280.9 745.8,278.7 C747.0,276.4 748.2,274.1 749.5,271.8 C750.8,269.6 752.2,267.4 753.6,265.2 C755.0,263.1 756.5,261.0 758.0,258.9 C759.5,256.8 761.1,254.7 762.7,252.7 C764.4,250.7 766.0,248.8 767.8,246.8 C769.5,244.9 771.3,243.1 773.1,241.2 C775.0,239.4 776.8,237.6 778.8,235.9 C780.7,234.2 782.7,232.5 784.7,230.9 C786.7,229.3 788.0,228.2 790.8,226.2 C793.6,224.2 797.8,220.9 801.5,218.9 C805.2,216.9 809.3,215.5 812.8,214.4 C816.3,213.3 820.0,213.0 822.3,212.3 C824.6,211.6 825.8,211.1 826.8,210.4 C827.8,209.7 827.8,208.7 828.0,208.3 L828.5,208.3 Z" fill="#808080"/>
<path d="M828.5,104.4 L828.5,208.3" fill="none" stroke="#333" stroke-width="1" opacity="0.75"/>
<path d="M828.0,208.3 C827.8,208.7 827.8,209.7 826.8,210.4 C825.8,211.1 824.6,211.6 822.3,212.3 C820.0,213.0 816.3,213.3 812.8,214.4 C809.3,215.5 805.2,216.9 801.5,218.9 C797.8,220.9 793.6,224.2 790.8,226.2 C788.0,228.2 786.7,229.3 784.7,230.9 C782.7,232.5 780.7,234.2 778.8,235.9 C776.8,237.6 775.0,239.4 773.1,241.2 C771.3,243.1 769.5,244.9 767.8,246.8 C766.0,248.8 764.4,250.7 762.7,252.7 C761.1,254.7 759.5,256.8 758.0,258.9 C756.5,261.0 755.0,263.1 753.6,265.2 C752.2,267.4 750.8,269.6 749.5,271.8 C748.2,274.1 747.0,276.4 745.8,278.7 C744.6,280.9 743.5,283.3 742.4,285.6 C741.4,288.0 740.4,290.4 739.5,292.8 C738.5,295.2 737.7,297.6 736.9,300.1 C736.1,302.6 735.3,305.0 734.6,307.5 C734.0,310.0 733.4,312.5 732.8,315.1 C732.3,317.6 731.8,320.1 731.4,322.7 C731.0,325.2 730.6,327.8 730.3,330.4 C730.1,332.9 729.8,336.7 729.7,338.0" fill="none" stroke="#2a2a2a" stroke-width="1" stroke-linejoin="round"/>
<path d="M828.5,104.4 L877.5,104.4 L877.5,338.0" fill="none" stroke="#3a3a3a" stroke-width="1.2"/>
<line x1="695.2" y1="338.0" x2="704.2" y2="338.0" stroke="#111" stroke-width="2"/>
<line x1="699.2" y1="326.3" x2="704.2" y2="326.3" stroke="#9a9a9a" stroke-width="1"/>
<line x1="699.2" y1="314.6" x2="704.2" y2="314.6" stroke="#9a9a9a" stroke-width="1"/>
<line x1="699.2" y1="303.0" x2="704.2" y2="303.0" stroke="#9a9a9a" stroke-width="1"/>
<line x1="699.2" y1="291.3" x2="704.2" y2="291.3" stroke="#9a9a9a" stroke-width="1"/>
<line x1="695.2" y1="279.6" x2="704.2" y2="279.6" stroke="#111" stroke-width="2"/>
<line x1="699.2" y1="267.9" x2="704.2" y2="267.9" stroke="#9a9a9a" stroke-width="1"/>
<line x1="699.2" y1="256.2" x2="704.2" y2="256.2" stroke="#9a9a9a" stroke-width="1"/>
<line x1="699.2" y1="244.6" x2="704.2" y2="244.6" stroke="#9a9a9a" stroke-width="1"/>
<line x1="699.2" y1="232.9" x2="704.2" y2="232.9" stroke="#9a9a9a" stroke-width="1"/>
<line x1="695.2" y1="221.2" x2="704.2" y2="221.2" stroke="#111" stroke-width="2"/>
<line x1="699.2" y1="209.5" x2="704.2" y2="209.5" stroke="#9a9a9a" stroke-width="1"/>
<line x1="699.2" y1="197.8" x2="704.2" y2="197.8" stroke="#9a9a9a" stroke-width="1"/>
<line x1="699.2" y1="186.2" x2="704.2" y2="186.2" stroke="#9a9a9a" stroke-width="1"/>
<line x1="699.2" y1="174.5" x2="704.2" y2="174.5" stroke="#9a9a9a" stroke-width="1"/>
<line x1="695.2" y1="162.8" x2="704.2" y2="162.8" stroke="#111" stroke-width="2"/>
<line x1="699.2" y1="151.1" x2="704.2" y2="151.1" stroke="#9a9a9a" stroke-width="1"/>
<line x1="699.2" y1="139.4" x2="704.2" y2="139.4" stroke="#9a9a9a" stroke-width="1"/>
<line x1="699.2" y1="127.8" x2="704.2" y2="127.8" stroke="#9a9a9a" stroke-width="1"/>
<line x1="699.2" y1="116.1" x2="704.2" y2="116.1" stroke="#9a9a9a" stroke-width="1"/>
<line x1="695.2" y1="104.4" x2="704.2" y2="104.4" stroke="#111" stroke-width="2"/>
<line x1="704.2" y1="338.0" x2="704.2" y2="347.5" stroke="#111" stroke-width="2"/>
<line x1="714.2" y1="338.0" x2="714.2" y2="342.5" stroke="#9a9a9a" stroke-width="1"/>
<line x1="724.2" y1="338.0" x2="724.2" y2="342.5" stroke="#9a9a9a" stroke-width="1"/>
<line x1="734.2" y1="338.0" x2="734.2" y2="342.5" stroke="#9a9a9a" stroke-width="1"/>
<line x1="744.2" y1="338.0" x2="744.2" y2="342.5" stroke="#9a9a9a" stroke-width="1"/>
<line x1="754.2" y1="338.0" x2="754.2" y2="347.5" stroke="#111" stroke-width="2"/>
<line x1="764.2" y1="338.0" x2="764.2" y2="342.5" stroke="#9a9a9a" stroke-width="1"/>
<line x1="774.2" y1="338.0" x2="774.2" y2="342.5" stroke="#9a9a9a" stroke-width="1"/>
<line x1="784.2" y1="338.0" x2="784.2" y2="342.5" stroke="#9a9a9a" stroke-width="1"/>
<line x1="794.2" y1="338.0" x2="794.2" y2="342.5" stroke="#9a9a9a" stroke-width="1"/>
<line x1="804.2" y1="338.0" x2="804.2" y2="347.5" stroke="#111" stroke-width="2"/>
<line x1="814.2" y1="338.0" x2="814.2" y2="342.5" stroke="#9a9a9a" stroke-width="1"/>
<line x1="824.2" y1="338.0" x2="824.2" y2="342.5" stroke="#9a9a9a" stroke-width="1"/>
<line x1="834.2" y1="338.0" x2="834.2" y2="342.5" stroke="#9a9a9a" stroke-width="1"/>
<line x1="844.2" y1="338.0" x2="844.2" y2="342.5" stroke="#9a9a9a" stroke-width="1"/>
<line x1="854.2" y1="338.0" x2="854.2" y2="347.5" stroke="#111" stroke-width="2"/>
<line x1="864.2" y1="338.0" x2="864.2" y2="342.5" stroke="#9a9a9a" stroke-width="1"/>
<line x1="874.2" y1="338.0" x2="874.2" y2="342.5" stroke="#9a9a9a" stroke-width="1"/>
<line x1="704.2" y1="103.4" x2="704.2" y2="338.0" stroke="#111" stroke-width="2"/>
<line x1="695.2" y1="338.0" x2="878.0" y2="338.0" stroke="#111" stroke-width="2.2"/>
<text x="686.0" y="113.0" font-size="26" text-anchor="end">20</text>
<text x="686.0" y="170.9" font-size="26" text-anchor="end">10</text>
<text x="686.0" y="228.9" font-size="26" text-anchor="end">0</text>
<text x="686.0" y="286.9" font-size="26" text-anchor="end">10</text>
<rect x="643.6" y="278.0" width="15.2" height="1.5" fill="#000"/>
<text x="686.0" y="344.8" font-size="26" text-anchor="end">20</text>
<rect x="643.6" y="335.9" width="15.2" height="1.5" fill="#000"/>
<rect x="681.8" y="363.6" width="15.2" height="1.5" fill="#000"/>
<text x="698.5" y="372.5" font-size="26">30</text>
<rect x="731.8" y="363.6" width="15.2" height="1.5" fill="#000"/>
<text x="748.5" y="372.5" font-size="26">20</text>
<rect x="781.8" y="363.6" width="15.2" height="1.5" fill="#000"/>
<text x="798.5" y="372.5" font-size="26">10</text>
<text x="852.7" y="372.5" font-size="26" text-anchor="middle">0</text>
<text x="785.4" y="412.4" font-size="30" text-anchor="middle"><tspan font-style="italic">z</tspan> (mm)</text>
<text x="615.0" y="121.1" font-size="30">(<tspan font-style="italic">c</tspan>)</text>
<text class="w" x="721.0" y="145.7" letter-spacing="0.6">IS</text>
<text class="w" x="779.4" y="171.5" letter-spacing="0.6">RS</text>
<text class="w" x="714.8" y="179.1" letter-spacing="0.6">SS</text>
<line x1="748.6" y1="138.0" x2="760.2" y2="142.1" stroke="#fff" stroke-width="3"/><path d="M767.7,144.8 L756.4,146.7 L760.2,142.1 L760.2,136.2 Z" fill="#fff"/>
<line x1="789.9" y1="180.9" x2="782.8" y2="187.5" stroke="#fff" stroke-width="3"/><path d="M776.9,192.9 L780.4,182.0 L782.8,187.5 L788.0,190.2 Z" fill="#fff"/>
<line x1="734.5" y1="185.2" x2="744.5" y2="191.7" stroke="#fff" stroke-width="3"/><path d="M751.2,196.0 L739.8,195.3 L744.5,191.7 L745.8,185.9 Z" fill="#fff"/>
<g clip-path="url(#clipd)"><g filter="url(#jmd)">
<rect x="995.7" y="102.9" width="181.3" height="239.3" fill="#1a1a1a"/>
<path d="M1055.0,104.0 L1105.0,104.0 L1105.0,200.0 L1060.0,190.0 Z" fill="#2e2e2e" filter="url(#b8)" opacity="0.9"/>
<path d="M1084.9,180.8 L1080.0,183.5 L1072.9,186.7 L1061.9,192.5 L1052.0,199.7 L1044.4,206.0 L1037.2,212.6 L1030.4,219.6 L1024.0,227.0 L1017.9,234.7 L1012.2,242.7 L1007.0,251.0 L1002.2,259.5 L997.9,268.3 L994.0,277.3 L990.6,286.5 L987.7,295.8 L985.3,305.3 L983.4,314.9 L982.0,324.6 L981.2,333.7 L980.9,337.9 L1030.8,340.6 L1031.0,337.7 L1031.7,330.5 L1032.7,323.4 L1034.1,316.3 L1035.9,309.4 L1038.0,302.5 L1040.5,295.8 L1043.3,289.2 L1046.5,282.8 L1050.0,276.5 L1053.8,270.5 L1057.9,264.6 L1062.4,259.0 L1067.1,253.6 L1072.1,248.4 L1077.4,243.6 L1082.9,239.0 L1088.3,235.0 L1094.5,231.8 L1102.4,228.3 L1109.3,224.4 Z" fill="#303030" filter="url(#b5)" opacity="1"/>
<path d="M1089.8,189.5 L1084.5,192.5 L1077.2,195.7 L1067.1,201.0 L1058.1,207.6 L1051.0,213.5 L1044.2,219.8 L1037.7,226.4 L1031.6,233.4 L1025.9,240.7 L1020.5,248.2 L1015.6,256.1 L1011.1,264.2 L1007.0,272.5 L1003.3,281.0 L1000.1,289.7 L997.4,298.5 L995.1,307.5 L993.3,316.6 L991.9,325.8 L991.1,334.5 L990.9,338.4 L1030.8,340.6 L1031.0,337.7 L1031.7,330.5 L1032.7,323.4 L1034.1,316.3 L1035.9,309.4 L1038.0,302.5 L1040.5,295.8 L1043.3,289.2 L1046.5,282.8 L1050.0,276.5 L1053.8,270.5 L1057.9,264.6 L1062.4,259.0 L1067.1,253.6 L1072.1,248.4 L1077.4,243.6 L1082.9,239.0 L1088.3,235.0 L1094.5,231.8 L1102.4,228.3 L1109.3,224.4 Z" fill="#5e5e5e" filter="url(#b5)" opacity="0.95"/>
<path d="M1035.3,258.5 L1031.1,265.3 L1027.0,272.5 L1023.3,280.0 L1020.0,287.7 L1017.1,295.5 L1014.7,303.4 L1012.6,311.5 L1011.0,319.6 L1009.8,327.9 L1009.1,336.0 L1008.9,339.4 L1030.8,340.6 L1031.0,337.7 L1031.7,330.5 L1032.7,323.4 L1034.1,316.3 L1035.9,309.4 L1038.0,302.5 L1040.5,295.8 L1043.3,289.2 L1046.5,282.8 L1050.0,276.5 L1053.9,270.3 Z" fill="#5c5c5c" filter="url(#b3)" opacity="0.9"/>
<ellipse cx="1072.0" cy="218.0" rx="16" ry="9" fill="#6e6e6e" filter="url(#b5)" opacity="0.85"/>
<ellipse cx="1010.0" cy="305.0" rx="14" ry="22" fill="#6b6b6b" filter="url(#b8)" opacity="0.85"/>
<ellipse cx="1009.0" cy="330.0" rx="13" ry="12" fill="#9d9d9d" filter="url(#b3)" opacity="0.95"/>
<path d="M1104.9,216.5 C1103.8,217.1 1100.7,219.0 1098.4,220.2 C1096.0,221.4 1093.0,222.5 1090.6,223.7 C1088.1,224.9 1085.7,225.9 1083.5,227.3 C1081.3,228.7 1079.3,230.3 1077.3,231.9 C1075.3,233.5 1073.4,235.1 1071.5,236.8 C1069.5,238.5 1067.7,240.2 1065.8,242.0 C1064.0,243.8 1062.2,245.6 1060.5,247.5 C1058.8,249.3 1057.1,251.3 1055.5,253.2 C1053.8,255.2 1052.3,257.2 1050.7,259.2 C1049.2,261.3 1047.7,263.3 1046.3,265.5 C1044.9,267.6 1043.5,269.7 1042.2,271.9 C1040.9,274.1 1039.7,276.3 1038.5,278.6 C1037.3,280.8 1036.2,283.1 1035.1,285.4 C1034.1,287.8 1033.0,290.1 1032.1,292.5 C1031.2,294.8 1029.9,298.4 1029.5,299.6" fill="none" stroke="#808080" stroke-width="1.6" stroke-linecap="round" opacity="0.9"/>
<path d="M1039.0,179.0 C1037.3,180.9 1032.0,185.3 1029.1,190.6 C1026.1,195.8 1023.9,203.1 1021.3,210.5 C1018.6,217.9 1015.6,226.8 1013.2,234.9 C1010.8,243.0 1009.1,250.4 1007.1,259.2 C1005.1,268.0 1002.5,280.0 1001.0,287.6 C999.5,295.2 998.5,302.1 998.0,305.0" fill="none" stroke="#474747" stroke-width="2.5" stroke-linecap="round" filter="url(#b1)" opacity="0.9"/>
<path d="M1049.9,103.0 C1049.4,105.5 1047.9,113.3 1047.0,118.0 C1046.1,122.7 1045.7,125.4 1044.7,131.0 C1043.7,136.6 1041.7,146.0 1040.8,151.7 C1039.9,157.4 1039.8,160.3 1039.5,165.0 C1039.2,169.7 1039.1,177.5 1039.0,180.0" fill="none" stroke="#5e5e5e" stroke-width="2.5" stroke-linecap="round" opacity="1"/>
<path d="M1039.0,180.0 C1040.6,182.4 1045.5,189.4 1048.6,194.5 C1051.7,199.6 1056.3,207.8 1057.8,210.5" fill="none" stroke="#4c4c4c" stroke-width="2.5" stroke-linecap="round" filter="url(#b1)" opacity="0.8"/>
</g></g>
<path d="M1105.4,104.4 L1175.0,104.4 L1175.0,340.2 L1022.8,340.2 L1022.8,340.2 C1022.9,339.7 1022.9,338.9 1023.0,337.1 C1023.2,335.3 1023.4,332.0 1023.7,329.5 C1024.0,327.0 1024.4,324.5 1024.8,322.0 C1025.2,319.5 1025.7,317.0 1026.3,314.6 C1026.8,312.1 1027.5,309.6 1028.2,307.2 C1028.8,304.8 1029.6,302.4 1030.4,300.0 C1031.2,297.6 1032.1,295.2 1033.0,292.8 C1034.0,290.5 1035.0,288.2 1036.0,285.9 C1037.1,283.6 1038.2,281.3 1039.4,279.1 C1040.6,276.8 1041.8,274.6 1043.1,272.4 C1044.4,270.3 1045.7,268.1 1047.2,266.0 C1048.6,263.9 1050.0,261.8 1051.5,259.8 C1053.0,257.8 1054.6,255.8 1056.2,253.9 C1057.9,251.9 1059.5,250.0 1061.2,248.2 C1063.0,246.3 1064.7,244.5 1066.5,242.7 C1068.4,241.0 1070.2,239.2 1072.1,237.6 C1074.0,235.9 1076.0,234.3 1078.0,232.7 C1079.9,231.1 1081.9,229.5 1084.0,228.2 C1086.2,226.8 1088.5,225.8 1091.0,224.6 C1093.5,223.4 1096.4,222.3 1098.8,221.1 C1101.2,219.9 1104.3,218.0 1105.4,217.4 L1105.4,217.4 Z" fill="#808080"/>
<path d="M1105.4,104.9 L1105.4,217.4" fill="none" stroke="#333" stroke-width="1" opacity="0.75"/>
<path d="M1105.4,217.4 C1104.3,218.0 1101.2,219.9 1098.8,221.1 C1096.4,222.3 1093.5,223.4 1091.0,224.6 C1088.5,225.8 1086.2,226.8 1084.0,228.2 C1081.9,229.5 1079.9,231.1 1078.0,232.7 C1076.0,234.3 1074.0,235.9 1072.1,237.6 C1070.2,239.2 1068.4,241.0 1066.5,242.7 C1064.7,244.5 1063.0,246.3 1061.2,248.2 C1059.5,250.0 1057.9,251.9 1056.2,253.9 C1054.6,255.8 1053.0,257.8 1051.5,259.8 C1050.0,261.8 1048.6,263.9 1047.2,266.0 C1045.7,268.1 1044.4,270.3 1043.1,272.4 C1041.8,274.6 1040.6,276.8 1039.4,279.1 C1038.2,281.3 1037.1,283.6 1036.0,285.9 C1035.0,288.2 1034.0,290.5 1033.0,292.8 C1032.1,295.2 1031.2,297.6 1030.4,300.0 C1029.6,302.4 1028.8,304.8 1028.2,307.2 C1027.5,309.6 1026.8,312.1 1026.3,314.6 C1025.7,317.0 1025.2,319.5 1024.8,322.0 C1024.4,324.5 1024.0,327.0 1023.7,329.5 C1023.4,332.0 1023.2,335.3 1023.0,337.1 C1022.9,338.9 1022.9,339.7 1022.8,340.2" fill="none" stroke="#2a2a2a" stroke-width="1" stroke-linejoin="round"/>
<path d="M1105.4,104.9 L1174.5,104.9 L1174.5,340.2" fill="none" stroke="#3a3a3a" stroke-width="1.2"/>
<line x1="988.7" y1="340.2" x2="997.7" y2="340.2" stroke="#111" stroke-width="2"/>
<line x1="992.7" y1="328.4" x2="997.7" y2="328.4" stroke="#9a9a9a" stroke-width="1"/>
<line x1="992.7" y1="316.7" x2="997.7" y2="316.7" stroke="#9a9a9a" stroke-width="1"/>
<line x1="992.7" y1="304.9" x2="997.7" y2="304.9" stroke="#9a9a9a" stroke-width="1"/>
<line x1="992.7" y1="293.1" x2="997.7" y2="293.1" stroke="#9a9a9a" stroke-width="1"/>
<line x1="988.7" y1="281.4" x2="997.7" y2="281.4" stroke="#111" stroke-width="2"/>
<line x1="992.7" y1="269.6" x2="997.7" y2="269.6" stroke="#9a9a9a" stroke-width="1"/>
<line x1="992.7" y1="257.8" x2="997.7" y2="257.8" stroke="#9a9a9a" stroke-width="1"/>
<line x1="992.7" y1="246.1" x2="997.7" y2="246.1" stroke="#9a9a9a" stroke-width="1"/>
<line x1="992.7" y1="234.3" x2="997.7" y2="234.3" stroke="#9a9a9a" stroke-width="1"/>
<line x1="988.7" y1="222.6" x2="997.7" y2="222.6" stroke="#111" stroke-width="2"/>
<line x1="992.7" y1="210.8" x2="997.7" y2="210.8" stroke="#9a9a9a" stroke-width="1"/>
<line x1="992.7" y1="199.0" x2="997.7" y2="199.0" stroke="#9a9a9a" stroke-width="1"/>
<line x1="992.7" y1="187.3" x2="997.7" y2="187.3" stroke="#9a9a9a" stroke-width="1"/>
<line x1="992.7" y1="175.5" x2="997.7" y2="175.5" stroke="#9a9a9a" stroke-width="1"/>
<line x1="988.7" y1="163.7" x2="997.7" y2="163.7" stroke="#111" stroke-width="2"/>
<line x1="992.7" y1="152.0" x2="997.7" y2="152.0" stroke="#9a9a9a" stroke-width="1"/>
<line x1="992.7" y1="140.2" x2="997.7" y2="140.2" stroke="#9a9a9a" stroke-width="1"/>
<line x1="992.7" y1="128.4" x2="997.7" y2="128.4" stroke="#9a9a9a" stroke-width="1"/>
<line x1="992.7" y1="116.7" x2="997.7" y2="116.7" stroke="#9a9a9a" stroke-width="1"/>
<line x1="988.7" y1="104.9" x2="997.7" y2="104.9" stroke="#111" stroke-width="2"/>
<line x1="997.7" y1="340.2" x2="997.7" y2="349.7" stroke="#111" stroke-width="2"/>
<line x1="1007.8" y1="340.2" x2="1007.8" y2="344.7" stroke="#9a9a9a" stroke-width="1"/>
<line x1="1017.9" y1="340.2" x2="1017.9" y2="344.7" stroke="#9a9a9a" stroke-width="1"/>
<line x1="1028.0" y1="340.2" x2="1028.0" y2="344.7" stroke="#9a9a9a" stroke-width="1"/>
<line x1="1038.1" y1="340.2" x2="1038.1" y2="344.7" stroke="#9a9a9a" stroke-width="1"/>
<line x1="1048.2" y1="340.2" x2="1048.2" y2="349.7" stroke="#111" stroke-width="2"/>
<line x1="1058.3" y1="340.2" x2="1058.3" y2="344.7" stroke="#9a9a9a" stroke-width="1"/>
<line x1="1068.4" y1="340.2" x2="1068.4" y2="344.7" stroke="#9a9a9a" stroke-width="1"/>
<line x1="1078.5" y1="340.2" x2="1078.5" y2="344.7" stroke="#9a9a9a" stroke-width="1"/>
<line x1="1088.6" y1="340.2" x2="1088.6" y2="344.7" stroke="#9a9a9a" stroke-width="1"/>
<line x1="1098.7" y1="340.2" x2="1098.7" y2="349.7" stroke="#111" stroke-width="2"/>
<line x1="1108.8" y1="340.2" x2="1108.8" y2="344.7" stroke="#9a9a9a" stroke-width="1"/>
<line x1="1118.9" y1="340.2" x2="1118.9" y2="344.7" stroke="#9a9a9a" stroke-width="1"/>
<line x1="1129.0" y1="340.2" x2="1129.0" y2="344.7" stroke="#9a9a9a" stroke-width="1"/>
<line x1="1139.1" y1="340.2" x2="1139.1" y2="344.7" stroke="#9a9a9a" stroke-width="1"/>
<line x1="1149.2" y1="340.2" x2="1149.2" y2="349.7" stroke="#111" stroke-width="2"/>
<line x1="1159.3" y1="340.2" x2="1159.3" y2="344.7" stroke="#9a9a9a" stroke-width="1"/>
<line x1="1169.4" y1="340.2" x2="1169.4" y2="344.7" stroke="#9a9a9a" stroke-width="1"/>
<line x1="997.7" y1="103.9" x2="997.7" y2="340.2" stroke="#111" stroke-width="2"/>
<line x1="988.7" y1="340.2" x2="1175.0" y2="340.2" stroke="#111" stroke-width="2.2"/>
<text x="979.5" y="116.2" font-size="26" text-anchor="end">20</text>
<text x="979.5" y="174.1" font-size="26" text-anchor="end">10</text>
<text x="979.5" y="232.0" font-size="26" text-anchor="end">0</text>
<text x="979.5" y="289.9" font-size="26" text-anchor="end">10</text>
<rect x="937.1" y="281.0" width="15.2" height="1.5" fill="#000"/>
<text x="979.5" y="347.8" font-size="26" text-anchor="end">20</text>
<rect x="937.1" y="338.9" width="15.2" height="1.5" fill="#000"/>
<rect x="976.8" y="363.6" width="15.2" height="1.5" fill="#000"/>
<text x="993.5" y="372.5" font-size="26">30</text>
<rect x="1027.3" y="363.6" width="15.2" height="1.5" fill="#000"/>
<text x="1044.0" y="372.5" font-size="26">20</text>
<rect x="1077.8" y="363.6" width="15.2" height="1.5" fill="#000"/>
<text x="1094.5" y="372.5" font-size="26">10</text>
<text x="1149.2" y="372.5" font-size="26" text-anchor="middle">0</text>
<text x="1082.5" y="412.4" font-size="30" text-anchor="middle"><tspan font-style="italic">z</tspan> (mm)</text>
<text x="902.2" y="121.1" font-size="30">(<tspan font-style="italic">d</tspan>)</text>
<text class="w" x="1018.3" y="126.9" letter-spacing="0.6">IS</text>
<text class="w" x="1051.5" y="171.0" letter-spacing="0.6">RS</text>
<text class="w" x="1001.2" y="175.6" letter-spacing="0.6">SS</text>
<line x1="1029.6" y1="130.4" x2="1034.3" y2="136.5" stroke="#fff" stroke-width="3"/><path d="M1039.2,142.8 L1028.7,138.3 L1034.3,136.5 L1037.5,131.5 Z" fill="#fff"/>
<line x1="1061.6" y1="177.1" x2="1055.3" y2="182.8" stroke="#fff" stroke-width="3"/><path d="M1049.4,188.2 L1053.0,177.3 L1055.3,182.8 L1060.6,185.6 Z" fill="#fff"/>
<line x1="1012.3" y1="188.5" x2="1015.7" y2="203.8" stroke="#fff" stroke-width="3"/><path d="M1017.5,211.6 L1009.8,203.1 L1015.7,203.8 L1020.8,200.6 Z" fill="#fff"/>
<text transform="translate(27.3,230.2) rotate(-90)" font-size="30" text-anchor="middle"><tspan font-style="italic">y</tspan> (mm)</text>
</svg></body></html>
